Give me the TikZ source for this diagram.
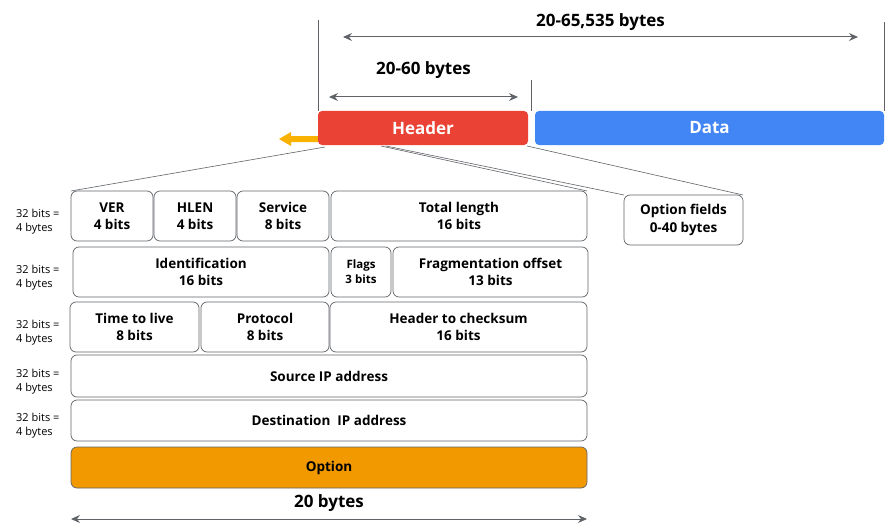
\documentclass[tikz,border=0pt]{standalone}
\usepackage{fontspec}
\setmainfont{Open Sans}
\usetikzlibrary{arrows.meta,calc}
\definecolor{hdrred}{HTML}{EA4335}
\definecolor{datablue}{HTML}{4285F4}
\definecolor{optorange}{HTML}{F29900}
\definecolor{arrowyellow}{HTML}{F9B200}
\definecolor{linegray}{HTML}{5F6368}
\tikzset{
    field/.style={draw=linegray, line width=0.7pt, rounded corners=6pt,
        inner sep=0pt, outer sep=0pt, align=center, font=\fontsize{13.5}{17.5}\selectfont\bfseries},
    bar/.style={rounded corners=4pt, inner sep=0pt, outer sep=0pt, text=white,
        minimum height=34pt, font=\fontsize{17}{20}\selectfont\bfseries},
    rowlabel/.style={anchor=west, align=left, inner sep=0pt, font=\fontsize{11}{14}\selectfont},
    span/.style={draw=linegray, line width=1pt, {Stealth[length=9pt,width=8pt,inset=3pt]}-{Stealth[length=9pt,width=8pt,inset=3pt]}},
    tick/.style={draw=linegray, line width=0.6pt},
}
\begin{document}
\begin{tikzpicture}[x=1pt,y=-1pt]
\useasboundingbox (0,0) rectangle (888,532);

% packet
\fill[arrowyellow] (318,136) -- (291,136) -- (291,132) -- (279,139) -- (291,146) -- (291,142) -- (318,142) -- cycle;
\node[bar, fill=hdrred, minimum width=210pt] (hdr) at (423,128) {Header};
\node[bar, fill=datablue, minimum width=349pt] (data) at (709.5,128) {Data};

\draw[tick] (hdr.north west) -- ++(0,-91);
\draw[tick] ($(hdr.north east)!0.5!(data.north west)$) -- ++(0,-31);
\draw[tick] (data.north east) -- ++(0,-89);

\coordinate (tl) at (343,37);
\coordinate (tr) at (858,37);
\coordinate (hl) at (329,97);
\coordinate (hr) at (518,97);
\draw[span] (tl) -- (tr) node[midway, above=3pt, font=\fontsize{17}{20}\selectfont\bfseries] {20-65,535 bytes};
\draw[span] (hl) -- (hr) node[midway, above=15pt, font=\fontsize{17}{20}\selectfont\bfseries] {20-60 bytes};

% header fields
\node[field, minimum width=82pt, minimum height=50pt] (ver) at (112,216) {VER\\4 bits};
\node[field, minimum width=82pt, minimum height=50pt] (hlen) at (195,216) {HLEN\\4 bits};
\node[field, minimum width=92pt, minimum height=50pt] (serv) at (283,216) {Service\\8 bits};
\node[field, minimum width=256pt, minimum height=50pt] (tlen) at (459,216) {Total length\\16 bits};

\node[field, minimum width=256pt, minimum height=50pt] (ident) at (201,272) {Identification\\16 bits};
\node[field, minimum width=60pt, minimum height=50pt, font=\fontsize{11.5}{15}\selectfont\bfseries] (flags) at (361,272) {Flags\\3 bits};
\node[field, minimum width=195pt, minimum height=50pt] (frag) at (490.5,272) {Fragmentation offset\\13 bits};

\node[field, minimum width=129pt, minimum height=50pt] (ttl) at (134.5,327) {Time to live\\8 bits};
\node[field, minimum width=128pt, minimum height=50pt] (proto) at (265,327) {Protocol\\8 bits};
\node[field, minimum width=257pt, minimum height=50pt] (csum) at (458.5,327) {Header to checksum\\16 bits};

\node[field, minimum width=516pt, minimum height=42pt] (src) at (329,376) {Source IP address};
\node[field, minimum width=516pt, minimum height=41pt] (dst) at (329,420.5) {Destination\ \ IP address};
\node[field, fill=optorange, minimum width=516pt, minimum height=41pt] (opt) at (329,467.5) {Option};

\node[field, minimum width=119pt, minimum height=50pt] (optf) at (683.5,220) {Option fields\\0-40 bytes};

% row sizes
\foreach \y/\n in {216/a,272/b,327/c,376/d,420/e}
    \node[rowlabel] (row\n) at (16,\y+6) {32 bits =\\4 bytes};

% zoom lines
\coordinate (z1) at (325,147);
\coordinate (z2) at (381,146);
\coordinate (z3) at (386,146);
\coordinate (z4) at (527,146);
\draw[tick] (z1) -- (ver.north west);
\draw[tick] (z2) -- (tlen.north east);
\draw[tick] (z3) -- (optf.north west);
\draw[tick] (z4) -- (optf.north east);

% total
\coordinate (bl) at (71,519);
\coordinate (br) at (587,519);
\draw[span] (bl) -- (br) node[midway, above=4pt, font=\fontsize{17}{20}\selectfont\bfseries] {20 bytes};
\end{tikzpicture}
\end{document}
